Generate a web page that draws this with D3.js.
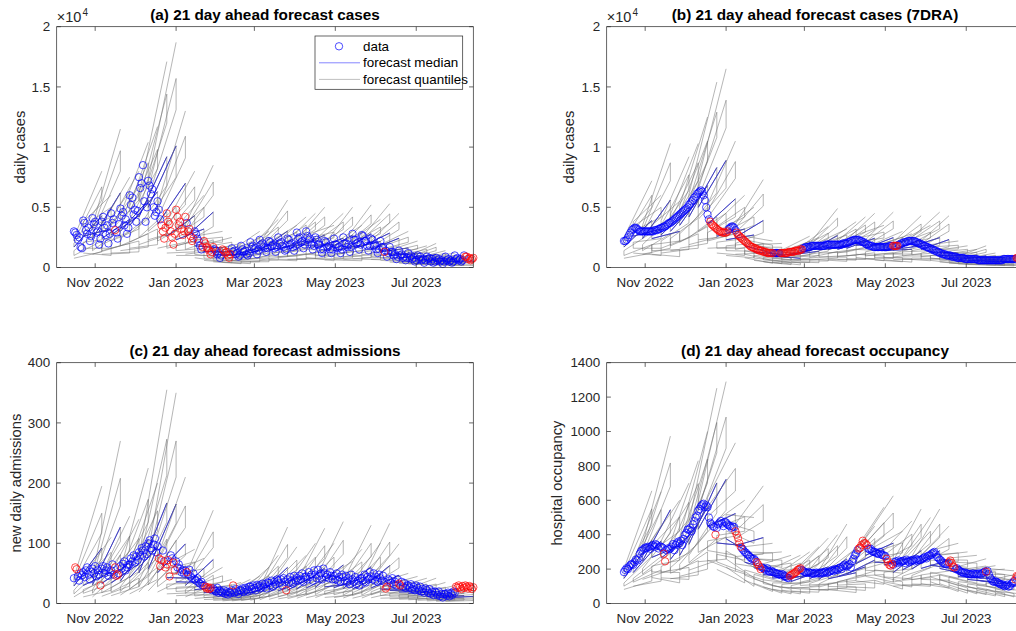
<!DOCTYPE html>
<html>
<head>
<meta charset="utf-8">
<script src="https://cdn.jsdelivr.net/npm/d3@7"></script>
<style>
  body { margin: 0; background: #fff; }
  svg { display: block; font-family: "Liberation Sans", Arial, Helvetica, sans-serif; }
</style>
</head>
<body>
<svg id="chart" width="1016" height="631"></svg>
<script>
// daily series, day 0 = 16 Oct 2022 (302 days). cases in hundreds (axis is x10^4)
const casesDaily = [
  30,29,27,23,25,17,16, 39,37,31,28,33,22,26, 41,36,38,29,30,19,24, 38,42,33,27,35,20,28,
  45,37,40,31,29,24,36, 49,43,46,35,40,28,33, 60,52,58,44,48,38,47, 75,66,70,85,55,38,50,
  72,68,61,65,50,43,46, 55,48,40,35,30,24,33, 45,38,36,30,25,19,28, 48,42,35,38,32,27,30,
  42,37,30,32,26,22,24, 30,28,24,22,18,15,17, 22,20,17,16,14,11,13, 17,15,14,11,12,8,10,
  15,14,12,13,10,8,11, 16,13,14,11,12,9,10, 18,15,13,14,11,10,12, 21,17,18,15,16,11,14,
  23,19,20,17,16,13,16, 22,21,18,19,16,13,17, 25,20,21,18,17,14,15, 24,23,19,20,17,14,18,
  29,24,25,21,22,16,19, 30,26,23,24,19,15,18, 25,23,19,19,15,12,15, 22,21,17,18,15,12,15,
  24,19,19,16,17,12,15, 25,20,20,17,19,13,17, 28,23,23,20,21,15,19, 27,26,22,22,18,14,18,
  24,23,18,19,15,12,15, 22,17,17,13,14,9,12, 17,13,13,10,11,7,9, 14,10,11,8,9,6,8,
  12,8,10,7,8,5,6, 10,7,9,6,7,4,6, 9,7,8,5,7,4,5, 8,6,7,5,6,3,5, 9,6,7,5,6,4,5,
  10,7,8,6,7,5,6, 10,9,9,7,8,6,7, 8
];
const casesAvg = [
  22,22,23,25,27,29,31, 32,33,33,32,31,30,30, 30,30,30,30,30,30,30, 30,30,31,31,31,32,32,
  33,33,34,34,35,36,37, 37,38,39,40,41,42,43, 44,45,46,47,48,49,50, 52,53,55,56,58,59,61,
  62,63,64,63,60,56,50, 44,40,38,36,35,34,33, 32,31,30,30,29,29,29, 29,30,32,33,34,34,33,
  31,29,27,26,25,24,23, 22,21,20,19,18,17,17, 16,16,15,15,14,14,14, 13,13,13,12,12,12,12,
  12,12,12,12,12,12,12, 12,12,12,12,12,13,13, 13,13,13,14,14,14,14, 15,15,16,16,17,17,17,
  17,18,18,18,18,18,18, 18,18,18,18,18,19,19, 19,19,19,19,19,19,19, 19,19,19,19,20,20,20,
  20,21,21,22,22,23,23, 23,23,23,22,22,21,21, 20,19,19,18,18,18,17, 17,17,17,17,17,17,17,
  17,17,17,17,18,18,18, 18,18,18,18,19,19,20, 20,21,21,21,22,22,22, 22,22,22,21,21,20,20,
  19,19,18,18,17,17,16, 16,15,15,14,14,13,13, 12,12,11,11,11,10,10, 10,10,9,9,9,9,8,
  8,8,8,8,8,7,7, 7,7,7,7,7,7,7, 7,6,6,6,6,6,6, 6,6,6,6,6,6,6, 6,6,6,6,6,6,7,
  7,7,7,7,7,7,7, 7,7,8,8,8,8,8, 8
];
const admissions = [
  42,60,57,45,38,50,47, 52,44,55,60,48,40,53, 58,50,62,45,55,48,30, 58,62,50,55,60,46,52,
  55,65,48,60,46,48,50, 62,58,66,70,55,60,64, 65,75,70,80,68,78,72, 85,80,92,88,78,95,82,
  100,105,92,88,98,108,85, 95,75,62,72,88,70,60, 65,72,45,80,75,68,55, 70,60,65,58,52,55,50,
  55,52,48,56,45,42,50, 40,38,42,35,33,36,30, 30,28,25,27,24,26,22, 25,22,20,26,18,21,19,
  18,22,16,20,15,19,17, 22,30,18,24,20,16,22, 22,25,19,26,23,20,28, 28,24,30,26,22,31,27,
  30,26,33,28,32,25,35, 34,30,38,28,36,32,40, 38,34,40,30,42,36,22, 40,35,44,38,33,46,39,
  42,38,46,40,50,36,44, 45,40,52,44,48,38,55, 48,42,56,46,50,40,58, 50,44,48,42,52,46,40,
  46,40,50,38,44,36,48, 44,38,46,35,42,32,48, 40,36,44,32,38,30,42, 42,38,48,35,44,40,52,
  45,40,50,38,44,36,48, 42,38,46,36,25,28,40, 38,34,42,32,36,30,40, 33,30,36,28,34,26,30,
  30,26,32,24,28,22,30, 26,22,28,20,24,18,25, 22,18,24,16,20,14,20, 18,14,20,12,16,10,16,
  16,13,18,12,17,14,20, 18,28,26,30,27,24,29, 26,30,28,25,29,27,24,27
];
const occupancy = [
  183,195,205,200,215,225,230, 225,240,255,250,262,290,305, 310,318,325,322,330,328,318,
  335,340,330,345,338,320,332, 330,325,290,245,310,320,315, 320,330,345,310,340,350,360,
  350,365,340,375,400,410,430, 430,440,420,460,480,500,510, 540,550,565,575,580,560,570,
  560,500,470,460,450,445,400, 440,460,470,480,465,450,475, 470,460,455,450,440,448,445,
  420,400,380,350,330,320,310, 300,295,285,280,270,262,258, 260,250,240,228,215,200,210,
  205,200,195,205,190,185,190, 185,180,178,175,172,170,165, 170,168,160,155,150,148,160,
  165,170,175,180,185,195,200, 205,195,190,185,180,178,182, 180,175,178,172,176,180,174,
  178,175,182,176,180,185,178, 182,186,190,195,188,200,196, 195,205,210,200,215,225,218,
  215,222,230,210,245,260,280, 290,310,320,325,340,365,350, 350,340,320,315,318,305,300,
  300,295,290,288,300,285,280, 280,275,260,240,225,220,230, 225,240,245,235,250,240,245,
  245,250,235,255,245,240,250, 250,255,245,260,250,255,252, 255,260,265,270,262,275,280,
  280,290,295,300,285,270,265, 255,250,240,235,230,228,235, 240,250,235,215,210,200,205,
  195,190,185,182,178,180,175, 175,170,172,168,175,170,172, 170,175,172,168,178,180,185,
  185,190,170,150,140,130,125, 130,125,120,115,110,112,105, 100,105,110,98,102,115,120,
  130,140,160,158,150,155,160,162
];

// day ranges plotted in red
const redA = [[31,31],[66,84],[86,90],[97,105],[112,118],[234,234],[295,301]];
const redB = [[65,78],[85,112],[118,134],[203,206],[296,301]];
const redC = [[1,2],[20,20],[31,33],[64,66],[69,72],[75,76],[85,85],[99,103],[120,120],[160,160],[235,236],[245,246],[288,301]];
const redD = [[30,31],[69,69],[84,88],[100,103],[125,133],[177,183],[198,202],[245,249],[273,273],[295,297]];

// weekly forecasts: start day, 21 days ahead, 7 quantiles (4th = median)
const fcStart = [0,7,14,21,28,35,42,49,56,63,70,77,84,91,98,105,112,119,126,133,140,
  147,154,161,168,175,182,189,196,203,210,217,224,231,238,245,252,259,266,273,280];
const horizon = 21;

const caseStartQ = [
  [7.7,10,14,17,20,22,25],[12,16,21,26,30,34,38],[11,14,19,24,28,31,35],[11,14,19,24,28,31,35],
  [12,16,22,27,31,35,39],[14,18,24,30,35,39,44],[16,21,28,35,40,46,51],[19,25,34,42,48,55,61],
  [23,30,40,50,58,65,73],[16,22,29,36,41,47,52],[12,16,21,26,30,34,38],[10,14,18,23,26,30,33],
  [11,15,20,25,29,33,36],[8.1,11,14,18,21,23,26],[5.9,7.8,10,13,15,17,19],[4.7,6.3,8.4,10.5,12,14,15],
  [4.5,6,8,10,11.5,13,14.5],[4.5,6,8,10,11.5,13,14.5],[4.7,6.3,8.4,10.5,12,14,15],[5.4,7.2,9.6,12,14,16,17],
  [6.3,8.4,11,14,16,18,20],[6.5,8.7,12,14.5,17,19,21],[6.8,9,12,15,17,19.5,22],[6.8,9,12,15,17,19.5,22],
  [7.2,9.6,13,16,18,21,23],[8.3,11,15,18.5,21,24,27],[7.2,9.6,13,16,18,21,23],[6.3,8.4,11,14,16,18,20],
  [6.3,8.4,11,14,16,18,20],[6.5,8.7,12,14.5,17,19,21],[7.2,9.6,13,16,18,21,23],[7.9,10.5,14,17.5,20,23,25],
  [6.8,9,12,15,17,19.5,22],[5.9,7.8,10,13,15,17,19],[4.5,6,8,10,11.5,13,14.5],[3.6,4.8,6.4,8,9.2,10.4,11.6],
  [2.9,3.9,5.2,6.5,7.5,8.5,9.4],[2.5,3.3,4.4,5.5,6.3,7.2,8],[2.5,3.3,4.4,5.5,6.3,7.2,8],[2.3,3,4,5,5.8,6.5,7.3],
  [2.3,3,4,5,5.8,6.5,7.3]
];
const casesEndQ = [
  [13,22,32,43,56,67,80],[10,16,24,32,42,50,60],[18,31,46,62,80,97,115],[12,20,30,40,52,63,75],
  [13,22,32,43,56,67,80],[17,28,42,56,73,87,104],[19,32,47,63,82,98,117],[27,46,68,92,120,144,171],
  [30,50,75,101,131,157,187],[21,35,52,70,91,109,130],[13,22,32,43,56,67,80],[10,16,24,32,42,50,60],
  [14,23,34,46,60,71,85],[4.8,8.1,12,16.2,21,25.2,30],[4,6.8,10,13.5,17.5,21,25],[3.2,5.4,8,10.8,14,16.8,20],
  [3.2,5.4,8,10.8,14,16.8,20],[4.8,8.1,12,16.2,21,25.2,30],[4.8,8.1,12,16.2,21,25.2,30],[6.4,10.8,16,21.6,28,33.6,40],
  [9,15.1,22.4,30.2,39.2,47,56],[5.6,9.5,14,18.9,24.5,29.4,35],[6.7,11.3,16.8,22.7,29.4,35.3,42],[7.2,12.2,18,24.3,31.5,37.8,45],
  [8,13.5,20,27,35,42,50],[5.6,9.5,14,18.9,24.5,29.4,35],[7.2,12.2,18,24.3,31.5,37.8,45],[8,13.5,20,27,35,42,50],
  [5.6,9.5,14,18.9,24.5,29.4,35],[8.3,14,20.8,28.1,36.4,43.7,52],[6.4,10.8,16,21.6,28,33.6,40],[8.5,14.3,21.2,28.6,37.1,44.5,53],
  [7.2,12.2,18,24.3,31.5,37.8,45],[4.8,8.1,12,16.2,21,25.2,30],[3.5,5.9,8.8,11.9,15.4,18.5,22],[2.9,4.9,7.2,9.7,12.6,15.1,18],
  [3.2,5.4,8,10.8,14,16.8,20],[2.2,3.8,5.6,7.6,9.8,11.8,14],[1.9,3.2,4.8,6.5,8.4,10.1,12],[1.6,2.7,4,5.4,7,8.4,10],
  [1.6,2.7,4,5.4,7,8.4,10]
];
const casesAvgEndQ = [
  [12,19,29,39,50,60,72],[10,16,24,32,42,50,60],[16,28,41,56,72,87,103],[9,15,22,30,38,46,55],
  [15,25,37,50,64,77,92],[16,28,41,56,72,87,103],[20,34,50,68,88,105,125],[25,42,62,83,108,129,154],
  [26,45,66,89,116,139,165],[17,28,42,57,74,88,105],[10,16,24,32,42,50,60],[8,13.5,20,27,35,42,50],
  [12,20,29,39,51,61,73],[3.5,5.9,8.8,11.9,15.4,18.5,22],[3.2,5.4,8,10.8,14,16.8,20],[2.4,4,6,8.1,10.5,12.6,15],
  [2.2,3.8,5.6,7.6,9.8,11.8,14],[4.2,7,10.4,14,18.2,21.8,26],[4,6.8,10,13.5,17.5,21,25],[5.4,9.2,13.6,18.4,23.8,28.6,34],
  [7.8,13.2,19.6,26.5,34.3,41,49],[5.1,8.6,12.8,17.3,22.4,26.9,32],[6.1,10.3,15.2,20.5,26.6,31.9,38],[6.7,11.3,16.8,22.7,29.4,35.3,42],
  [7.2,12.2,18,24.3,31.5,37.8,45],[5.6,9.5,14,18.9,24.5,29.4,35],[7.4,12.4,18.4,24.8,32.2,38.6,46],[4.8,8.1,12,16.2,21,25.2,30],
  [4.5,7.6,11.2,15.1,19.6,23.5,28],[6.9,11.6,17.2,23.2,30.1,36.1,43],[5.6,9.5,14,18.9,24.5,29.4,35],[7.4,12.4,18.4,24.8,32.2,38.6,46],
  [6.9,11.6,17.2,23.2,30.1,36.1,43],[3.5,5.9,8.8,11.9,15.4,18.5,22],[2.9,4.9,7.2,9.7,12.6,15.1,18],[2.4,4,6,8.1,10.5,12.6,15],
  [2.9,4.9,7.2,9.7,12.6,15.1,18],[1.9,3.2,4.8,6.5,8.4,10.1,12],[1.6,2.7,4,5.4,7,8.4,10],[1.4,2.4,3.6,4.9,6.3,7.6,9],
  [1.4,2.4,3.6,4.9,6.3,7.6,9]
];
const admStartQ = [
  [11,16,22,29,34,38,43],[11,17,23,30,35,40,45],[11,17,23,31,36,42,47],[12,18,25,33,39,44,50],
  [13,19,26,34,40,46,51],[14,20,28,37,43,50,56],[16,24,32,43,50,58,65],[19,28,38,51,60,68,77],
  [21,31,43,57,67,76,86],[19,28,38,51,60,68,77],[16,24,32,43,50,58,65],[13,20,27,36,42,48,54],
  [11,17,23,30,35,40,45],[8.4,12.5,17,23,27,30,34],[6.6,9.9,13.5,18,21,24,27],[5.3,7.9,10.8,14.4,16.8,19.2,21.6],
  [4.4,6.6,9,12,14,16,18],[4.4,6.6,9,12,14,16,18],[4.8,7.3,9.9,13.2,15.4,17.6,19.8],[5.5,8.3,11.3,15,17.5,20,22.5],
  [6.2,9.2,12.6,16.8,19.6,22.4,25.2],[7,10.6,14.4,19.2,22.4,25.6,28.8],[7.7,11.6,15.8,21,24.5,28,31.5],[8.1,12.2,16.7,22.2,25.9,29.6,33.3],
  [8.8,13.2,18,24,28,32,36],[9.5,14.2,19.4,25.8,30.1,34.4,38.7],[9.9,14.9,20.3,27,31.5,36,40.5],[10.1,15.2,20.7,27.6,32.2,36.8,41.4],
  [9.7,14.5,19.8,26.4,30.8,35.2,39.6],[9.2,13.9,18.9,25.2,29.4,33.6,37.8],[8.8,13.2,18,24,28,32,36],[9.2,13.9,18.9,25.2,29.4,33.6,37.8],
  [9.5,14.2,19.4,25.8,30.1,34.4,38.7],[8.8,13.2,18,24,28,32,36],[7.9,11.9,16.2,21.6,25.2,28.8,32.4],[7,10.6,14.4,19.2,22.4,25.6,28.8],
  [6.2,9.2,12.6,16.8,19.6,22.4,25.2],[5.3,7.9,10.8,14.4,16.8,19.2,21.6],[4.4,6.6,9,12,14,16,18],[3.7,5.6,7.7,10.2,11.9,13.6,15.3],
  [3.5,5.3,7.2,9.6,11.2,12.8,14.4]
];
const admEndQ = [
  [39,58,74,92,117,150,195],[22,33,42,52,66,85,110],[54,81,103,127,162,208,270],[29,44,55,68,87,112,145],
  [28,42,53,66,84,108,140],[45,68,86,106,135,173,225],[40,60,76,94,120,154,200],[71,107,135,167,213,273,355],
  [70,105,133,165,210,270,350],[42,63,80,99,126,162,210],[18,27,34,42,54,69,90],[15,23,29,35,45,58,75],
  [31,47,59,73,93,119,155],[12,18,23,28,36,46,60],[8,12,15,19,24,31,40],[7,10.5,13.3,16.5,21,27,35],
  [8,12,15,19,24,31,40],[9,13.5,17,21,27,35,45],[12,18,23,28,36,46,60],[16,24,30,38,48,62,80],
  [25,38,48,60,76,98,127],[19,28,36,44,56,72,94],[16,24,30,38,48,62,80],[20,30,38,47,60,77,100],
  [25,38,48,59,75,96,125],[20,30,38,47,60,77,100],[27,41,52,64,82,105,136],[14,21,27,33,42,54,70],
  [18,27,34,42,54,69,90],[26,39,49,61,78,100,130],[20,30,38,47,60,77,100],[27,40,51,63,80,102,133],
  [20,30,38,47,59,76,99],[10,15,19,23.5,30,38.5,50],[9,13.5,17,21,27,35,45],[8.4,12.6,16,19.7,25.2,32.3,42],
  [8.4,12.6,16,19.7,25.2,32.3,42],[7,10.5,13.3,16.5,21,27,35],[6,9,11.4,14.1,18,23.1,30],[5.6,8.4,10.6,13.2,16.8,21.6,28],
  [5,7.5,9.5,11.8,15,19.3,25]
];
const occStartQ = [
  [82,101,119,146,165,183,201],[101,124,146,180,203,225,248],[140,171,202,248,279,310,341],[151,184,218,268,302,335,369],
  [149,182,215,264,297,330,363],[144,176,208,256,288,320,352],[158,193,228,280,315,350,385],[194,237,280,344,387,430,473],
  [243,297,351,432,486,540,594],[252,308,364,448,504,560,616],[198,242,286,352,396,440,484],[212,259,306,376,423,470,517],
  [189,231,273,336,378,420,462],[135,165,195,240,270,300,330],[117,143,169,208,234,260,286],[95,116,137,168,189,210,231],
  [83,102,120,148,167,185,204],[77,94,111,136,153,170,187],[72,88,104,128,144,160,176],[86,105,124,152,171,190,209],
  [81,99,117,144,162,180,198],[79,96,114,140,158,175,193],[81,99,117,144,162,180,198],[88,107,127,156,176,195,215],
  [97,118,140,172,194,215,237],[131,160,189,232,261,290,319],[158,193,228,280,315,350,385],[135,165,195,240,270,300,330],
  [126,154,182,224,252,280,308],[101,124,146,180,203,225,248],[110,135,159,196,221,245,270],[113,138,163,200,225,250,275],
  [115,140,166,204,230,255,281],[126,154,182,224,252,280,308],[115,140,166,204,230,255,281],[108,132,156,192,216,240,264],
  [88,107,127,156,176,195,215],[79,96,114,140,158,175,193],[77,94,111,136,153,170,187],[83,102,120,148,167,185,204],
  [59,72,85,104,117,130,143]
];
const occEndQ = [
  [131,197,275,367,459,550,655],[130,195,273,364,455,546,650],[195,292,409,545,681,817,973],[120,180,252,336,420,504,600],
  [140,210,294,392,490,588,700],[166,249,349,465,581,697,830],[200,300,420,560,700,840,1000],[250,376,526,701,876,1052,1252],
  [258,387,542,722,903,1084,1290],[187,280,392,523,654,785,934],[120,180,252,336,420,504,600],[100,150,210,280,350,420,500],
  [137,205,287,383,479,575,684],[70,105,147,196,245,294,350],[60,90,126,168,210,252,300],[56,84,118,157,196,235,280],
  [56,84,118,157,196,235,280],[60,90,126,168,210,252,300],[66,99,139,185,231,277,330],[76,114,160,213,266,319,380],
  [80,120,168,224,280,336,400],[92,139,194,259,323,388,462],[64,96,134,179,224,269,320],[76,114,160,213,266,319,380],
  [90,135,189,252,315,378,450],[112,168,235,314,392,470,560],[125,188,263,351,438,526,626],[84,126,176,235,294,353,420],
  [96,144,202,269,336,403,480],[110,165,231,307,384,461,549],[100,150,210,280,350,420,500],[110,165,231,307,384,461,549],
  [90,135,189,252,315,378,450],[70,105,147,196,245,294,350],[60,90,126,168,210,252,300],[56,84,118,157,196,235,280],
  [52,78,109,146,182,218,260],[44,66,92,123,154,185,220],[40,60,84,112,140,168,200],[38,57,80,106,133,160,190],
  [36,54,76,101,126,151,180]
];

// axis ticks
const xTickDates = ['2022-11-01','2023-01-01','2023-03-01','2023-05-01','2023-07-01'];
const xTickLabels = ['Nov 2022','Jan 2023','Mar 2023','May 2023','Jul 2023'];
const caseTicks = [0,50,100,150,200];
const caseTickLabels = ['0','0.5','1','1.5','2'];
const admTicks = [0,100,200,300,400];
const occTicks = [0,200,400,600,800,1000,1200,1400];

const svg = d3.select('#chart');
const W = 416.6, H = 240.8;
const ink = '#262626';

const x = d3.scaleUtc()
  .domain([new Date(Date.UTC(2022,9,3)), new Date(Date.UTC(2023,7,13))])
  .range([0, W]);
const dayOf = i => new Date(Date.UTC(2022, 9, 16 + i));
const isRed = (i, ranges) => ranges.some(r => i >= r[0] && i <= r[1]);

const panels = [
  {left:56.7, top:26.7, title:'(a) 21 day ahead forecast cases', ylab:'daily cases', ylabX:19.5,
   vals:casesDaily, red:redA, sq:caseStartQ, eq:casesEndQ, ymax:200, ticks:caseTicks, labels:caseTickLabels, exp:true, legend:true},
  {left:606.7, top:26.7, title:'(b) 21 day ahead forecast cases (7DRA)', ylab:'daily cases', ylabX:569,
   vals:casesAvg, red:redB, sq:caseStartQ, eq:casesAvgEndQ, ymax:200, ticks:caseTicks, labels:caseTickLabels, exp:true},
  {left:56.7, top:362.7, title:'(c) 21 day ahead forecast admissions', ylab:'new daily admissions', ylabX:16,
   vals:admissions, red:redC, sq:admStartQ, eq:admEndQ, ymax:400, ticks:admTicks, labels:admTicks.map(String)},
  {left:606.7, top:362.7, title:'(d) 21 day ahead forecast occupancy', ylab:'hospital occupancy', ylabX:557,
   vals:occupancy, red:redD, sq:occStartQ, eq:occEndQ, ymax:1400, ticks:occTicks, labels:occTicks.map(String)}
];

panels.forEach((p, pi) => {
  const y = d3.scaleLinear().domain([0, p.ymax]).range([H, 0]);
  const g = svg.append('g').attr('transform', `translate(${p.left},${p.top})`);
  const line = d3.line().x(d => x(d[0])).y(d => y(d[1]));

  g.append('clipPath').attr('id', 'clip' + pi)
    .append('rect').attr('width', W).attr('height', H);

  const fc = g.append('g').attr('clip-path', `url(#clip${pi})`);
  // each forecast: median first, then its quantiles as one zig-zag line over it
  fcStart.forEach((s, k) => {
    const t0 = dayOf(s), t1 = dayOf(s + horizon);
    fc.append('path')
      .attr('d', line([[t0, p.sq[k][3]], [t1, p.eq[k][3]]]))
      .attr('fill', 'none')
      .attr('stroke', '#0000ff')
      .attr('stroke-width', 0.9);
    const pts = [];
    p.sq[k].forEach((v, q) => {
      if (q % 2 == 0) pts.push([t0, v], [t1, p.eq[k][q]]);
      else pts.push([t1, p.eq[k][q]], [t0, v]);
    });
    fc.append('path')
      .attr('d', line(pts))
      .attr('fill', 'none')
      .attr('stroke', '#6e6e6e')
      .attr('stroke-opacity', 0.72)
      .attr('stroke-width', 0.7);
  });

  // data circles
  const pts = p.vals.map((v, i) => ({t: dayOf(i), v: v, red: isRed(i, p.red)}));
  g.append('g').selectAll('circle')
    .data(pts.filter(d => !d.red).concat(pts.filter(d => d.red)))
    .join('circle')
      .attr('cx', d => x(d.t))
      .attr('cy', d => y(d.v))
      .attr('r', 3.7)
      .attr('fill', 'none')
      .attr('stroke', d => d.red ? '#ff0000' : '#0000ff')
      .attr('stroke-width', 0.7);

  // box and ticks
  g.append('rect').attr('width', W).attr('height', H)
    .attr('fill', 'none').attr('stroke', ink).attr('stroke-width', 0.7);

  xTickDates.forEach((ds, i) => {
    const xx = x(new Date(ds + 'T00:00:00Z'));
    g.append('line').attr('x1', xx).attr('x2', xx).attr('y1', H).attr('y2', H - 4.2)
      .attr('stroke', ink).attr('stroke-width', 0.7);
    g.append('line').attr('x1', xx).attr('x2', xx).attr('y1', 0).attr('y2', 4.2)
      .attr('stroke', ink).attr('stroke-width', 0.7);
    g.append('text').attr('x', xx).attr('y', H + 19.6)
      .attr('text-anchor', 'middle').attr('font-size', 13.4).attr('fill', ink)
      .text(xTickLabels[i]);
  });

  p.ticks.forEach((t, i) => {
    const yy = y(t);
    g.append('line').attr('x1', 0).attr('x2', 4.2).attr('y1', yy).attr('y2', yy)
      .attr('stroke', ink).attr('stroke-width', 0.7);
    g.append('line').attr('x1', W).attr('x2', W - 4.2).attr('y1', yy).attr('y2', yy)
      .attr('stroke', ink).attr('stroke-width', 0.7);
    g.append('text').attr('x', -6.5).attr('y', yy).attr('dy', '0.35em')
      .attr('text-anchor', 'end').attr('font-size', 13.4).attr('fill', ink)
      .text(p.labels[i]);
  });

  if (p.exp) {
    g.append('text').attr('x', 0).attr('y', -4.5).attr('font-size', 14.5).attr('fill', ink).text('\u00d710');
    g.append('text').attr('x', 25.8).attr('y', -11).attr('font-size', 10).attr('fill', ink).text('4');
  }

  g.append('text')
    .attr('x', W / 2).attr('y', -7)
    .attr('text-anchor', 'middle')
    .attr('font-size', 15.3).attr('font-weight', 'bold').attr('fill', '#000')
    .text(p.title);

  svg.append('text')
    .attr('transform', `translate(${p.ylabX},${p.top + H / 2}) rotate(-90)`)
    .attr('text-anchor', 'middle').attr('dy', '0.35em')
    .attr('font-size', 14.7).attr('fill', ink)
    .text(p.ylab);

  if (p.legend) {
    const lg = g.append('g').attr('transform', `translate(${315 - p.left},${36 - p.top})`);
    lg.append('rect').attr('width', 147.7).attr('height', 53.3)
      .attr('fill', '#fff').attr('stroke', ink).attr('stroke-width', 0.7);
    lg.append('circle').attr('cx', 24).attr('cy', 10.3).attr('r', 3.7)
      .attr('fill', 'none').attr('stroke', '#0000ff').attr('stroke-width', 0.7);
    lg.append('line').attr('x1', 4).attr('x2', 45).attr('y1', 26.8).attr('y2', 26.8)
      .attr('stroke', '#0000ff').attr('stroke-opacity', 0.6).attr('stroke-width', 0.8);
    lg.append('line').attr('x1', 4).attr('x2', 45).attr('y1', 43.4).attr('y2', 43.4)
      .attr('stroke', '#6e6e6e').attr('stroke-opacity', 0.55).attr('stroke-width', 0.8);
    [['data', 10.3], ['forecast median', 26.8], ['forecast quantiles', 43.4]].forEach(e => {
      lg.append('text').attr('x', 48).attr('y', e[1]).attr('dy', '0.35em')
        .attr('font-size', 13.4).attr('fill', '#000').text(e[0]);
    });
  }
});
</script>
</body>
</html>
